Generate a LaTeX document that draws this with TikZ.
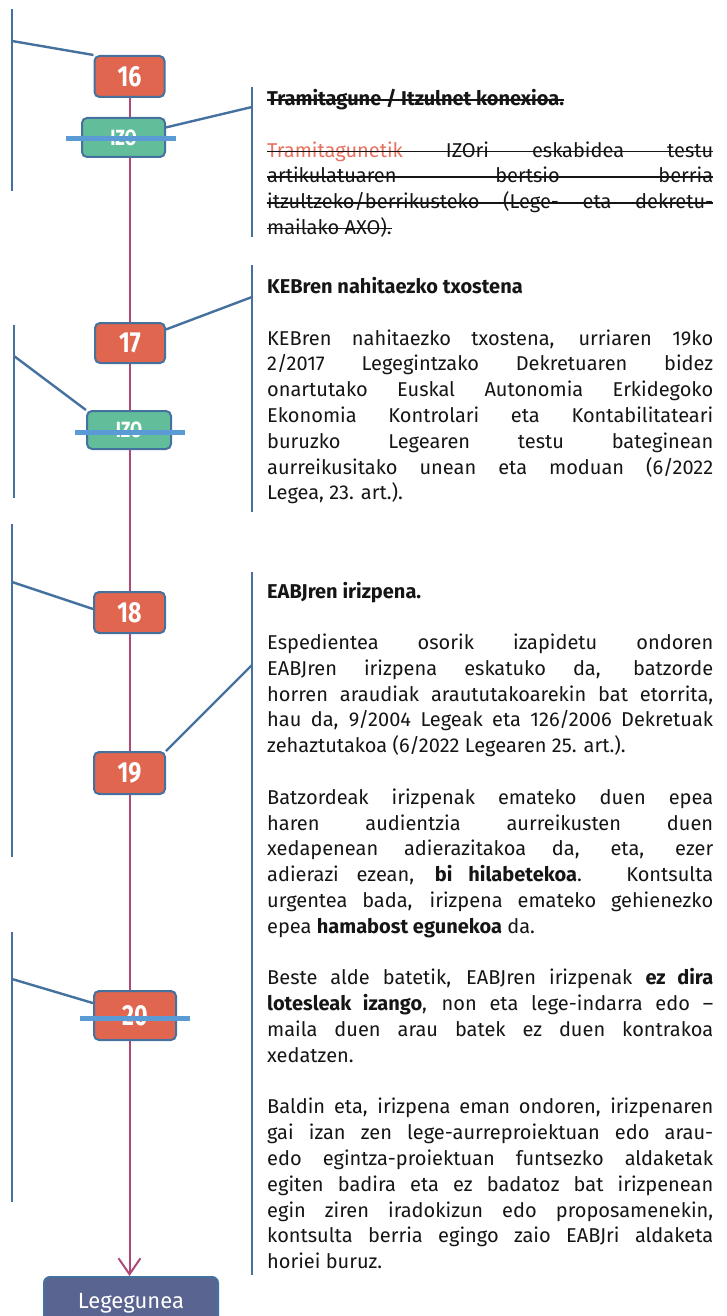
\documentclass[tikz,border=0pt]{standalone}
\usepackage{fontspec}
\setmainfont{Fira Sans}
\newfontfamily\numfont[FakeStretch=0.8]{Fira Sans}
\usetikzlibrary{arrows.meta,backgrounds,calc}
\definecolor{nred}{HTML}{E0664F}
\definecolor{ngreen}{HTML}{62BE9A}
\definecolor{bblue}{HTML}{44719E}
\definecolor{flowc}{HTML}{AE4877}
\definecolor{barc}{HTML}{5B9BD5}
\definecolor{legec}{HTML}{5A6490}
\definecolor{tred}{HTML}{E8705F}
\definecolor{tblack}{HTML}{151515}
\tikzset{
  stepnode/.style={draw=bblue, line width=2pt, rounded corners=5pt, fill=nred, text=white,
    font=\numfont\bfseries\fontsize{29}{29}\selectfont, minimum width=70pt, minimum height=41pt, inner sep=0pt},
  izonode/.style={stepnode, fill=ngreen, font=\numfont\bfseries\fontsize{22}{22}\selectfont},
  legenode/.style={draw=bblue, line width=2pt, rounded corners=6pt, fill=legec, text=white,
    font=\fontsize{22}{22}\selectfont, minimum width=174pt, minimum height=52pt, inner sep=0pt},
  txt/.style={anchor=base west, inner sep=0pt, font=\fontsize{20}{25.8}\selectfont, text=tblack},
  brk/.style={draw=bblue, line width=2.4pt},
  conn/.style={draw=bblue, line width=2.4pt},
  bar/.style={draw=barc, line width=5pt},
  flow/.style={draw=flowc, line width=2pt, -{Straight Barb[length=16pt,width=22pt]}},
  strike/.style={draw=tblack, line width=1.2pt}
}
\newcommand\jline[3]{\node[txt] (#1) at (267,#2) {\makebox[446pt][s]{#3}};}
\newcommand\pline[3]{\node[txt] (#1) at (267,#2) {#3};}
\newlength\redw
\begin{document}
\begin{tikzpicture}[x=1pt,y=-1pt]
\useasboundingbox (0,0) rectangle (726,1316);
\clip (0,0) rectangle (726,1316);

% brackets
\draw[brk] (12,9) -- (12,191);
\draw[brk] (252,87) -- (252,237);
\draw[brk] (14,325) -- (14,498);
\draw[brk] (252,265) -- (252,512);
\draw[brk] (12,524) -- (12,857);
\draw[brk] (252,572) -- (252,1275);
\draw[brk] (12,932) -- (12,1202);
\coordinate (c16) at (12,41);
\coordinate (cizo1) at (252,107);
\coordinate (c17) at (252,297);
\coordinate (cizo2) at (14,356);
\coordinate (c18) at (12,582);
\coordinate (c19) at (252,665);
\coordinate (c20) at (12,979);

% nodes
\node[stepnode] (n16) at (129.5,76.5) {16};
\node[izonode, minimum width=83pt, minimum height=39pt] (izo1) at (123.5,137.5) {IZO};
\node[stepnode, minimum height=40pt] (n17) at (130,343) {17};
\node[izonode, minimum width=84pt, minimum height=38pt] (izo2) at (129,430) {IZO};
\node[stepnode, minimum width=71pt] (n18) at (129.5,612.5) {18};
\node[stepnode, minimum width=71pt, minimum height=42pt] (n19) at (129.5,773) {19};
\node[stepnode, minimum width=82pt, minimum height=49pt] (n20) at (135,1015.5) {20};
\node[legenode] (lege) at (131,1303) {Legegunea};

\begin{scope}[on background layer]
  \draw[flow] (n16.south) -- (n16.south |- lege.north);
\end{scope}

% connectors
\draw[conn] (c16) -- (n16.north west);
\draw[conn] (cizo1) -- (izo1);
\draw[conn] (c17) -- (n17);
\draw[conn] (cizo2) -- (izo2.north west);
\draw[conn] (c18) -- ([yshift=3.5pt]n18.west);
\draw[conn] (c19) -- (n19.north east);
\draw[conn] (c20) -- (n20);

% strike bars
\draw[bar] (66,139) -- (176,139);
\draw[bar] (75,432) -- (185,432);
\draw[bar] (80,1018) -- (190,1018);

% block 1
\pline{t1}{105.5}{\bfseries Tramitagune / Itzulnet konexioa.}
\jline{l11}{157.1}{\textcolor{tred}{Tramitagunetik} IZOri eskabidea testu}
\jline{l12}{182.9}{artikulatuaren bertsio berria}
\jline{l13}{208.7}{itzultzeko/berrikusteko (Lege- eta dekretu-}
\pline{l14}{234.5}{mailako AXO).}
\settowidth\redw{\fontsize{20}{25.8}\selectfont Tramitagunetik}
\draw[strike, line width=1.5pt] ([yshift=5.5pt]t1.base west) -- ([yshift=5.5pt]t1.base east);
\draw[strike, draw=tred] ([yshift=5.8pt]l11.base west) -- ([yshift=5.8pt,xshift=\redw]l11.base west);
\draw[strike] ([yshift=5.8pt,xshift=\redw]l11.base west) -- ([yshift=5.8pt]l11.base east);
\draw[strike] ([yshift=5.8pt]l12.base west) -- ([yshift=5.8pt]l12.base east);
\draw[strike] ([yshift=5.8pt]l13.base west) -- ([yshift=5.8pt]l13.base east);
\draw[strike] ([yshift=5.8pt]l14.base west) -- ([yshift=5.8pt]l14.base east);

% block 2
\pline{t2}{293.5}{\bfseries KEBren nahitaezko txostena}
\jline{l21}{345.1}{KEBren nahitaezko txostena, urriaren 19ko}
\jline{l22}{370.9}{2/2017 Legegintzako Dekretuaren bidez}
\jline{l23}{396.7}{onartutako Euskal Autonomia Erkidegoko}
\jline{l24}{422.5}{Ekonomia Kontrolari eta Kontabilitateari}
\jline{l25}{448.3}{buruzko Legearen testu bateginean}
\jline{l26}{474.1}{aurreikusitako unean eta moduan (6/2022}
\pline{l27}{499.9}{Legea, 23. art.).}

% block 3
\pline{t3}{598.5}{\bfseries EABJren irizpena.}
\jline{p11}{649.5}{Espedientea osorik izapidetu ondoren}
\jline{p12}{675.3}{EABJren irizpena eskatuko da, batzorde}
\jline{p13}{701.1}{horren araudiak araututakoarekin bat etorrita,}
\jline{p14}{726.9}{hau da, 9/2004 Legeak eta 126/2006 Dekretuak}
\pline{p15}{752.7}{zehaztutakoa (6/2022 Legearen 25. art.).}
\jline{p21}{804.3}{Batzordeak irizpenak emateko duen epea}
\jline{p22}{830.1}{haren audientzia aurreikusten duen}
\jline{p23}{855.9}{xedapenean adierazitakoa da, eta, ezer}
\jline{p24}{881.7}{adierazi ezean, \textbf{bi hilabetekoa}. Kontsulta}
\jline{p25}{907.5}{urgentea bada, irizpena emateko gehienezko}
\pline{p26}{933.3}{epea \textbf{hamabost egunekoa} da.}
\jline{p31}{984.9}{Beste alde batetik, EABJren irizpenak \textbf{ez dira}}
\jline{p32}{1010.7}{\textbf{lotesleak izango}, non eta lege-indarra edo –}
\jline{p33}{1036.5}{maila duen arau batek ez duen kontrakoa}
\pline{p34}{1062.3}{xedatzen.}
\jline{p41}{1113.9}{Baldin eta, irizpena eman ondoren, irizpenaren}
\jline{p42}{1139.7}{gai izan zen lege-aurreproiektuan edo arau-}
\jline{p43}{1165.5}{edo egintza-proiektuan funtsezko aldaketak}
\jline{p44}{1191.3}{egiten badira eta ez badatoz bat irizpenean}
\jline{p45}{1217.1}{egin ziren iradokizun edo proposamenekin,}
\jline{p46}{1242.9}{kontsulta berria egingo zaio EABJri aldaketa}
\pline{p47}{1268.7}{horiei buruz.}
\end{tikzpicture}
\end{document}
